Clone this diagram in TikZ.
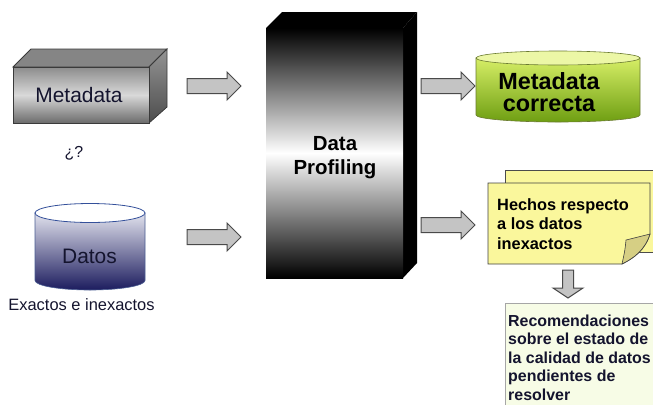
\documentclass[tikz,border=0pt]{standalone}
\usepackage{fontspec}
\setmainfont{Liberation Sans}
\definecolor{edgegray}{HTML}{3A3A3A}
\definecolor{arrowfill}{HTML}{C4C4C4}
\definecolor{arrowedge}{HTML}{4A4A4A}
\definecolor{notefill}{HTML}{FAF79C}
\definecolor{noteflap}{HTML}{D6CF84}
\definecolor{recfill}{HTML}{F7FCE6}
\definecolor{dbblue}{HTML}{34509A}
\definecolor{dbtop}{HTML}{E2E3EE}
\definecolor{navy}{HTML}{1C1C5E}
\definecolor{greenedge}{HTML}{6A7A30}
\definecolor{greentop}{HTML}{D6EE66}
\definecolor{greenbot}{HTML}{6E9E12}
\definecolor{greenlid}{HTML}{ECF7A6}
\definecolor{inkdark}{HTML}{14142E}

% right-pointing block arrow: x start, x tip, y centre
\newcommand\blockright[3]{%
  \path[blockarrow] (#1,#3-7.5) -- (#2-14,#3-7.5) -- (#2-14,#3-14) -- (#2,#3)
    -- (#2-14,#3+14) -- (#2-14,#3+7.5) -- (#1,#3+7.5) -- cycle;}
% downward block arrow: x centre, y start, y tip
\newcommand\blockdown[3]{%
  \path[blockarrow] (#1-5.5,#2) -- (#1+5.5,#2) -- (#1+5.5,#3-10) -- (#1+15,#3-10)
    -- (#1,#3) -- (#1-15,#3-10) -- (#1-5.5,#3-10) -- cycle;}

\begin{document}
\begin{tikzpicture}[x=1bp,y=-1bp,
  blockarrow/.style={fill=arrowfill,draw=arrowedge,line width=1bp,line join=miter},
  plainlabel/.style={inner sep=0,font=\fontsize{21}{24}\selectfont,text=inkdark},
  boldlabel/.style={inner sep=0,font=\bfseries\fontsize{16.4}{19.75}\selectfont,align=left,text=black}]
\useasboundingbox (0,0) rectangle (653,404);
\clip (0,0) rectangle (653,404);

% ---------- Metadata box (3D block) ----------
\path[fill=black!48,draw=edgegray,line width=0.8bp]
  (13,67) -- (31,49) -- (167,49) -- (149,67) -- cycle;
\path[top color=black!42,bottom color=black!70,draw=edgegray,line width=0.8bp]
  (149,67) -- (167,49) -- (167,107) -- (149,123) -- cycle;
\path[top color=black!45,bottom color=black!58,middle color=black!15,draw=edgegray,line width=0.8bp]
  (13,67) rectangle (149,123);
\node[plainlabel,anchor=base] (meta) at (79,102) {Metadata};
\node[inner sep=0,font=\fontsize{16}{18}\selectfont,text=inkdark,anchor=base] (q) at (74,157) {¿?};

% ---------- Datos cylinder ----------
\path[top color=dbtop,bottom color=navy,draw=dbblue!70!gray,line width=0.6bp]
  (35,213) -- (35,280.5) arc[start angle=180,end angle=0,x radius=55,y radius=9.5]
  -- (145,213) -- cycle;
\path[fill=white,draw=dbblue,line width=0.8bp] (90,213) ellipse[x radius=55,y radius=9.5];
\node[plainlabel,anchor=base] (datos) at (89.5,263) {Datos};
\node[inner sep=0,font=\fontsize{16.5}{19}\selectfont,text=inkdark,anchor=base] (exact) at (81.5,310) {Exactos e inexactos};

% ---------- Data Profiling block ----------
\path[fill=black] (266,28) -- (282,12) -- (417,12) -- (403,28) -- cycle;
\path[fill=black] (403,28) -- (417,12) -- (417,263) -- (403,278) -- cycle;
\path[top color=black,bottom color=black,middle color=white] (266,28) rectangle (403,278);
\node[inner sep=0,font=\bfseries\fontsize{20.5}{24.5}\selectfont,align=center,anchor=base] (prof) at (335,174.5) {Data\\Profiling};

% ---------- Metadata correcta cylinder ----------
\path[top color=greentop,bottom color=greenbot,draw=greenedge,line width=0.6bp]
  (476,58) -- (476,115) arc[start angle=180,end angle=0,x radius=82,y radius=7]
  -- (640,58) -- cycle;
\path[fill=greenlid,draw=greenedge,line width=0.6bp] (558,58) ellipse[x radius=82,y radius=7];
\node[inner sep=0,font=\bfseries\fontsize{23.5}{22.5}\selectfont,align=center,anchor=base] (mcorr) at (549,111.5) {Metadata\\correcta};

% ---------- Hechos note (two sheets, folded corner) ----------
\path[fill=notefill,draw=black!70,line width=0.8bp] (505,170) rectangle (670,252);
\path[fill=notefill,draw=black!75,line width=0.8bp]
  (488,183) -- (650,183) -- (650,234) .. controls (645,250) and (634,258) .. (622,264)
  -- (488,264) -- cycle;
\path[fill=noteflap,draw=black!75,line width=0.6bp]
  (650,234) -- (626,240) .. controls (625,250) .. (622,264)
  .. controls (634,258) and (645,250) .. (650,234) -- cycle;
\node[boldlabel,anchor=base west] (hechos) at (497,249.5) {Hechos respecto\\a los datos\\inexactos};

% ---------- Recomendaciones box ----------
\path[fill=recfill,draw=black!35,line width=0.8bp] (505,303) rectangle (670,430);
\node[boldlabel,text=inkdark,font=\bfseries\fontsize{16}{18.6}\selectfont,anchor=base west] (recom) at (508,400.4)
  {Recomendaciones\\sobre el estado de\\la calidad de datos\\pendientes de\\resolver};

% ---------- block arrows ----------
\blockright{187}{241}{86}
\blockright{187}{241}{237}
\blockright{421}{475}{86}
\blockright{421}{475}{225}
\blockdown{568}{270}{298}
\end{tikzpicture}
\end{document}
